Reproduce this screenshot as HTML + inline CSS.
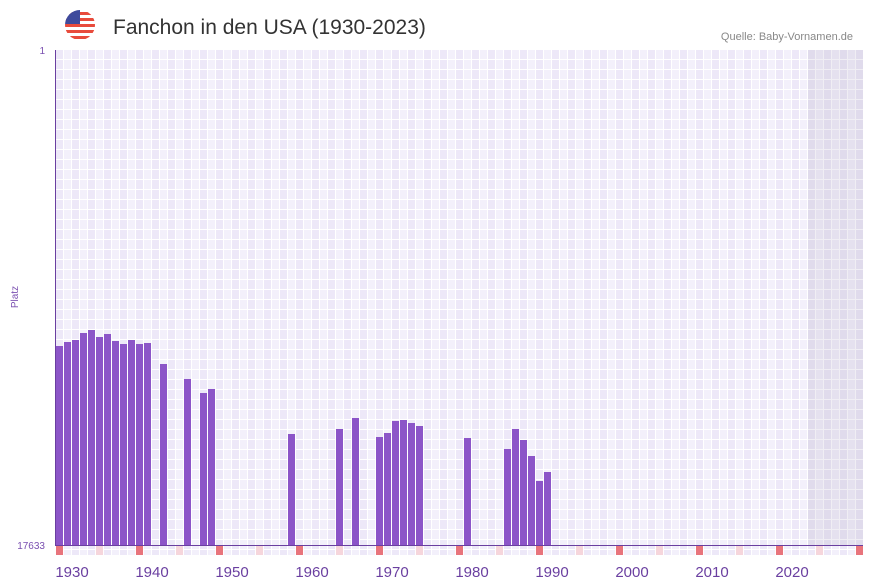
<!DOCTYPE html>
<html><head><meta charset="utf-8"><style>
body{margin:0;background:#fff;font-family:"Liberation Sans",sans-serif}
</style></head><body>
<svg width="873" height="587" xmlns="http://www.w3.org/2000/svg" style="display:block">
<defs>
<pattern id="g" x="56" y="50" width="16" height="10" patternUnits="userSpaceOnUse">
<rect width="16" height="10" fill="#fff"/>
<rect x="0" y="0" width="7" height="9" fill="#ede8f8"/>
<rect x="8" y="0" width="7" height="9" fill="#f3f0fb"/>
</pattern>
<pattern id="g2" x="56" y="50" width="16" height="10" patternUnits="userSpaceOnUse">
<rect width="16" height="10" fill="#f0eef4"/>
<rect x="0" y="0" width="7" height="9" fill="#e0dbec"/>
<rect x="8" y="0" width="7" height="9" fill="#e5e1ef"/>
</pattern>
<clipPath id="c"><circle cx="80" cy="25" r="15"/></clipPath>
</defs>
<g clip-path="url(#c)">
<rect x="65" y="10" width="30" height="30" fill="#fff"/>
<rect x="65" y="12" width="30" height="3" fill="#e84b3c"/>
<rect x="65" y="18" width="30" height="3" fill="#e84b3c"/>
<rect x="65" y="24" width="30" height="3" fill="#e84b3c"/>
<rect x="65" y="30" width="30" height="3" fill="#e84b3c"/>
<rect x="65" y="36" width="30" height="3" fill="#e84b3c"/>
<rect x="65" y="10" width="15" height="14" fill="#3e4a9c"/>
</g>
<text x="113" y="34" font-size="21" fill="#333" font-family="Liberation Sans, sans-serif">Fanchon in den USA (1930-2023)</text>
<text x="853" y="40" font-size="11" fill="#888" text-anchor="end">Quelle: Baby-Vornamen.de</text>
<rect x="56" y="50" width="807" height="495" fill="url(#g)"/>
<rect x="808" y="50" width="55" height="495" fill="url(#g2)"/>
<g fill="#8c55c8">
<rect x="56" y="346" width="7" height="199"/><rect x="64" y="342" width="7" height="203"/><rect x="72" y="340" width="7" height="205"/><rect x="80" y="333" width="7" height="212"/><rect x="88" y="330" width="7" height="215"/><rect x="96" y="337" width="7" height="208"/><rect x="104" y="334" width="7" height="211"/><rect x="112" y="341" width="7" height="204"/><rect x="120" y="344" width="7" height="201"/><rect x="128" y="340" width="7" height="205"/><rect x="136" y="344" width="7" height="201"/><rect x="144" y="343" width="7" height="202"/>
<rect x="160" y="364" width="7" height="181"/><rect x="184" y="379" width="7" height="166"/><rect x="200" y="393" width="7" height="152"/><rect x="208" y="389" width="7" height="156"/>
<rect x="288" y="434" width="7" height="111"/><rect x="336" y="429" width="7" height="116"/><rect x="352" y="418" width="7" height="127"/>
<rect x="376" y="437" width="7" height="108"/><rect x="384" y="433" width="7" height="112"/><rect x="392" y="421" width="7" height="124"/><rect x="400" y="420" width="7" height="125"/><rect x="408" y="423" width="7" height="122"/><rect x="416" y="426" width="7" height="119"/>
<rect x="464" y="438" width="7" height="107"/>
<rect x="504" y="449" width="7" height="96"/><rect x="512" y="429" width="7" height="116"/><rect x="520" y="440" width="7" height="105"/><rect x="528" y="456" width="7" height="89"/><rect x="536" y="481" width="7" height="64"/><rect x="544" y="472" width="7" height="73"/>
</g>
<rect x="56" y="546" width="807" height="9" fill="url(#g)"/>
<g fill="#e8747c">
<rect x="56" y="546" width="7" height="9"/><rect x="136" y="546" width="7" height="9"/><rect x="216" y="546" width="7" height="9"/><rect x="296" y="546" width="7" height="9"/><rect x="376" y="546" width="7" height="9"/><rect x="456" y="546" width="7" height="9"/><rect x="536" y="546" width="7" height="9"/><rect x="616" y="546" width="7" height="9"/><rect x="696" y="546" width="7" height="9"/><rect x="776" y="546" width="7" height="9"/><rect x="856" y="546" width="7" height="9"/>
</g>
<g fill="#f6d6dc">
<rect x="96" y="546" width="7" height="9"/><rect x="176" y="546" width="7" height="9"/><rect x="256" y="546" width="7" height="9"/><rect x="336" y="546" width="7" height="9"/><rect x="416" y="546" width="7" height="9"/><rect x="496" y="546" width="7" height="9"/><rect x="576" y="546" width="7" height="9"/><rect x="656" y="546" width="7" height="9"/><rect x="736" y="546" width="7" height="9"/><rect x="816" y="546" width="7" height="9"/>
</g>
<line x1="55.5" y1="50" x2="55.5" y2="546" stroke="#6a3fa0" stroke-width="1"/>
<line x1="55" y1="545.5" x2="863" y2="545.5" stroke="#6a3fa0" stroke-width="1"/>
<text x="45" y="54" font-size="10" fill="#7a4fb0" text-anchor="end">1</text>
<text x="45" y="549" font-size="10" fill="#7a4fb0" text-anchor="end">17633</text>
<text x="18" y="297" font-size="10" fill="#7a4fb0" text-anchor="middle" transform="rotate(-90 18 297)">Platz</text>
<g font-size="15" fill="#6a3fa0" text-anchor="middle">
<text x="72" y="577">1930</text><text x="152" y="577">1940</text><text x="232" y="577">1950</text><text x="312" y="577">1960</text><text x="392" y="577">1970</text><text x="472" y="577">1980</text><text x="552" y="577">1990</text><text x="632" y="577">2000</text><text x="712" y="577">2010</text><text x="792" y="577">2020</text>
</g>
</svg>
</body></html>
